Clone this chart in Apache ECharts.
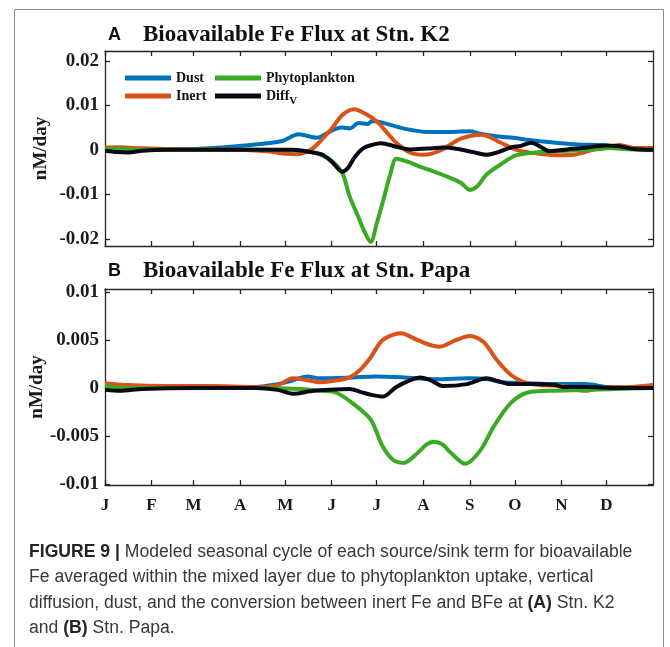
<!DOCTYPE html>
<html>
<head>
<meta charset="utf-8">
<script src="https://cdn.jsdelivr.net/npm/echarts@6/dist/echarts.min.js"></script>
<style>
  html, body { margin: 0; padding: 0; background: #fff; }
  #chart { width: 670px; height: 647px; }
</style>
</head>
<body>
<div id="chart"></div>
<script>
  // x: day of year, ticks at the start of each month
  var monthStarts = [0, 31, 59, 90, 120, 151, 181, 212, 243, 273, 304, 334];
  var monthLabels = ['J', 'F', 'M', 'A', 'M', 'J', 'J', 'A', 'S', 'O', 'N', 'D'];

  var yTicksA = [-0.02, -0.01, 0, 0.01, 0.02];
  var yTickLabelsA = ['-0.02', '-0.01', '0', '0.01', '0.02'];
  var yTicksB = [-0.01, -0.005, 0, 0.005, 0.01];
  var yTickLabelsB = ['-0.01', '-0.005', '0', '0.005', '0.01'];

  // Panel A - Stn. K2
  var dustDaysA = [0, 30, 45, 60, 80, 100, 118, 129, 141, 152, 158, 163, 169, 175, 178, 186, 200, 215, 230, 243, 249, 262, 272, 285, 300, 315, 330, 341, 352, 365];
  var dustA = [0, 0, 0.0001, 0.0002, 0.0006, 0.0012, 0.002, 0.0035, 0.0027, 0.0045, 0.005, 0.0048, 0.006, 0.0058, 0.0065, 0.006, 0.0047, 0.004, 0.004, 0.0042, 0.0037, 0.003, 0.0027, 0.0021, 0.0016, 0.0012, 0.0011, 0.0007, 0.0002, 0];

  var inertDaysA = [0, 10, 20, 40, 60, 90, 110, 120, 128, 137, 143, 152, 158, 166, 174, 181, 188, 194, 203, 212, 223, 237, 251, 263, 274, 285, 300, 312, 325, 336, 343, 352, 365];
  var inertA = [0.0005, 0.0006, 0.0004, 0.0002, 0.0001, 0, -0.0004, -0.0009, -0.001, 0, 0.0018, 0.0052, 0.0078, 0.0091, 0.008, 0.0064, 0.0038, 0.0016, -0.0006, -0.0011, -0.0002, 0.0025, 0.0034, 0.0017, 0, -0.0007, -0.0012, -0.0011, 0, 0.0007, 0.0011, 0.0004, 0.0004];

  var phytoDaysA = [0, 30, 100, 130, 137, 143, 150, 158, 163, 169, 173, 177, 181, 186, 190, 194, 200, 210, 220, 230, 237, 243, 248, 254, 263, 274, 290, 308, 330, 336, 345, 365];
  var phytoA = [0.0003, 0, 0, -0.0002, -0.0005, -0.001, -0.0022, -0.0052, -0.0105, -0.0153, -0.0185, -0.0207, -0.0165, -0.0105, -0.0055, -0.002, -0.0025, -0.0038, -0.005, -0.0063, -0.0074, -0.009, -0.0082, -0.0056, -0.0034, -0.0012, -0.0005, -0.0002, 0.0002, 0.0004, 0.0002, 0];

  var diffDaysA = [0, 8, 15, 25, 40, 100, 125, 137, 145, 152, 158, 162, 166, 170, 174, 184, 194, 203, 215, 225, 235, 245, 254, 262, 270, 277, 284, 290, 296, 308, 318, 333, 343, 352, 365];
  var diffA = [-0.0002, -0.0005, -0.0006, -0.0002, 0, 0, 0, -0.0005, -0.0011, -0.003, -0.0049, -0.004, -0.0018, -0.0002, 0.0007, 0.0015, 0.0007, 0.0001, 0.0003, 0.0005, 0.0002, -0.0005, -0.0011, -0.0005, 0.0005, 0.0009, 0.0016, 0.0007, -0.0003, 0.0001, 0.0004, 0.001, 0.0008, 0.0002, 0];

  // Panel B - Stn. Papa
  var dustDaysB = [0, 60, 100, 115, 123, 135, 143, 165, 180, 199, 221, 243, 255, 265, 281, 300, 320, 335, 365];
  var dustB = [0, 0, 0.0001, 0.0004, 0.0007, 0.0012, 0.001, 0.0011, 0.0012, 0.0011, 0.0009, 0.001, 0.0009, 0.0006, 0.0005, 0.0004, 0.0004, 0.0001, 0];

  var inertDaysB = [0, 15, 40, 70, 100, 115, 125, 135, 143, 155, 163, 170, 177, 185, 197, 208, 216, 223, 234, 243, 252, 261, 270, 279, 290, 305, 320, 330, 350, 365];
  var inertB = [0.0005, 0.0003, 0.0002, 0.0002, 0.0001, 0.0003, 0.001, 0.0008, 0.0006, 0.0008, 0.0011, 0.0019, 0.0032, 0.005, 0.0057, 0.005, 0.0045, 0.0043, 0.005, 0.0054, 0.0048, 0.0029, 0.0014, 0.0006, 0.0003, 0.0002, -0.0003, 0, 0.0001, 0.0003];

  var phytoDaysB = [0, 10, 30, 100, 130, 145, 154, 165, 177, 185, 192, 199, 208, 214, 219, 225, 230, 240, 250, 259, 270, 281, 295, 320, 340, 365];
  var phytoB = [0.0002, 0, 0, 0, -0.0001, -0.0003, -0.0005, -0.0016, -0.0033, -0.0061, -0.0075, -0.0078, -0.0068, -0.0059, -0.0056, -0.0059, -0.0067, -0.0079, -0.0065, -0.004, -0.0016, -0.0005, -0.0003, -0.0002, -0.0001, 0];

  var diffDaysB = [0, 10, 25, 60, 100, 115, 125, 139, 163, 170, 177, 185, 194, 203, 210, 217, 225, 241, 254, 262, 270, 281, 300, 305, 320, 340, 365];
  var diffB = [-0.0002, -0.0003, -0.0001, 0, 0, -0.0002, -0.0006, -0.0003, -0.0001, -0.0004, -0.0007, -0.0009, 0.0001, 0.0008, 0.0011, 0.0008, 0.0002, 0.0004, 0.001, 0.0007, 0.0004, 0.0004, 0.0003, 0.0001, 0.0001, 0, 0];

  var captionLines = [
    '{b|FIGURE 9 |} Modeled seasonal cycle of each source/sink term for bioavailable',
    'Fe averaged within the mixed layer due to phytoplankton uptake, vertical',
    'diffusion, dust, and the conversion between inert Fe and BFe at {b|(A)} Stn. K2',
    'and {b|(B)} Stn. Papa.'
  ];

  var colors = { dust: '#0072BD', inert: '#D95319', phyto: '#3AAA22', diff: '#0a0a14' };
  var serif = "'Liberation Serif', 'Times New Roman', serif";
  var sans = "'Liberation Sans', Arial, sans-serif";
  var axisColor = '#262626';

  function pairs(days, vals) {
    return days.map(function (d, i) { return [d, vals[i]]; });
  }
  function pick(ticks, labels) {
    return function (v) {
      for (var i = 0; i < ticks.length; i++) {
        if (Math.abs(ticks[i] - v) < 1e-9) return labels[i];
      }
      return '';
    };
  }

  function xAxes(gridIndex, withLabels) {
    var base = {
      type: 'value', gridIndex: gridIndex, min: 0, max: 365,
      axisLine: { show: true, onZero: false, lineStyle: { color: axisColor, width: 1.3 } },
      axisTick: { show: true, inside: true, length: 5, customValues: monthStarts, lineStyle: { color: axisColor, width: 1.3 } },
      splitLine: { show: false }
    };
    var bottom = echarts.util.merge({
      position: 'bottom',
      axisLabel: {
        show: withLabels, customValues: monthStarts, margin: 12,
        formatter: pick(monthStarts, monthLabels),
        fontFamily: serif, fontWeight: 'bold', fontSize: 17, color: '#1a1a1a'
      }
    }, base, true);
    var top = echarts.util.merge({ position: 'top', axisLabel: { show: false } }, base, true);
    return [bottom, top];
  }

  function yAxes(gridIndex, min, max, ticks, labels, nameGap) {
    var base = {
      type: 'value', gridIndex: gridIndex, min: min, max: max,
      axisLine: { show: true, onZero: false, lineStyle: { color: axisColor, width: 1.3 } },
      axisTick: { show: true, inside: true, length: 5, customValues: ticks, lineStyle: { color: axisColor, width: 1.3 } },
      splitLine: { show: false }
    };
    var left = echarts.util.merge({
      position: 'left',
      name: 'nM/day', nameLocation: 'middle', nameGap: nameGap, nameMoveOverlap: false,
      nameTextStyle: { fontFamily: serif, fontWeight: 'bold', fontSize: 19, color: '#1a1a1a' },
      axisLabel: {
        customValues: ticks, margin: 6,
        formatter: pick(ticks, labels),
        fontFamily: serif, fontWeight: 'bold', fontSize: 19, color: '#1a1a1a'
      }
    }, base, true);
    var right = echarts.util.merge({ position: 'right', axisLabel: { show: false } }, base, true);
    return [left, right];
  }

  function line(name, color, xi, yi, data, z) {
    return {
      name: name, type: 'line', xAxisIndex: xi, yAxisIndex: yi,
      data: data, smooth: 0.3, showSymbol: false, symbol: 'none',
      lineStyle: { color: color, width: 4 }, itemStyle: { color: color },
      z: z, silent: true
    };
  }

  var legendText = {
    fontFamily: serif, fontWeight: 'bold', fontSize: 14, color: '#111',
    rich: {
      sub: { fontFamily: serif, fontWeight: 'bold', fontSize: 11, color: '#111', padding: [11, 0, 0, 0] }
    }
  };
  function legendFmt(name) {
    return name === 'DiffV' ? 'Diff{sub|V}' : name;
  }

  var chart = echarts.init(document.getElementById('chart'), null, { renderer: 'canvas' });

  function panelTitle(letter, text, top) {
    return {
      left: 108, top: top, padding: 0,
      text: '{p|' + letter + '}{t|' + text + '}',
      textStyle: {
        rich: {
          p: { fontFamily: sans, fontWeight: 'bold', fontSize: 18, color: '#111', width: 35, lineHeight: 24 },
          t: { fontFamily: serif, fontWeight: 'bold', fontSize: 23, color: '#111', lineHeight: 24 }
        }
      }
    };
  }
  var titles = [
    panelTitle('A', 'Bioavailable Fe Flux at Stn. K2', 23),
    panelTitle('B', 'Bioavailable Fe Flux at Stn. Papa', 259)
  ];
  var capTops = [541, 566, 592, 617];
  captionLines.forEach(function (txt, i) {
    titles.push({
      left: 29, top: capTops[i], padding: 0, text: txt,
      textStyle: {
        fontFamily: sans, fontWeight: 'normal', fontSize: 17.6, color: '#383838', lineHeight: 22,
        rich: { b: { fontFamily: sans, fontWeight: 'bold', fontSize: 17.6, color: '#222', lineHeight: 22 } }
      }
    });
  });

  var xa = xAxes(0, false), xb = xAxes(1, true);
  var ya = yAxes(0, -0.0216, 0.0222, yTicksA, yTickLabelsA, 54);
  var yb = yAxes(1, -0.0101, 0.0103, yTicksB, yTickLabelsB, 58);

  chart.setOption({
    animation: false,
    backgroundColor: '#fff',
    title: titles,
    graphic: [
      {
        type: 'rect', z: -10, silent: true,
        shape: { x: 14.5, y: 9.5, width: 649, height: 700 },
        style: { fill: 'none', stroke: '#8c8c8c', lineWidth: 1 }
      }
    ],
    legend: [
      {
        data: ['Dust', 'Inert'], orient: 'vertical', left: 125, top: 71, padding: 0,
        itemWidth: 46, itemHeight: 5, itemGap: 4, icon: 'rect', selectedMode: false,
        textStyle: legendText, formatter: legendFmt
      },
      {
        data: ['Phytoplankton', 'DiffV'], orient: 'vertical', left: 215, top: 71, padding: 0,
        itemWidth: 46, itemHeight: 5, itemGap: 4, icon: 'rect', selectedMode: false,
        textStyle: legendText, formatter: legendFmt
      }
    ],
    grid: [
      { left: 105, top: 51, width: 548, height: 195 },
      { left: 105, top: 289, width: 548, height: 196 }
    ],
    xAxis: [xa[0], xa[1], xb[0], xb[1]],
    yAxis: [ya[0], ya[1], yb[0], yb[1]],
    series: [
      line('Dust', colors.dust, 0, 0, pairs(dustDaysA, dustA), 2),
      line('Inert', colors.inert, 0, 0, pairs(inertDaysA, inertA), 3),
      line('Phytoplankton', colors.phyto, 0, 0, pairs(phytoDaysA, phytoA), 4),
      line('DiffV', colors.diff, 0, 0, pairs(diffDaysA, diffA), 5),
      line('Dust', colors.dust, 2, 2, pairs(dustDaysB, dustB), 2),
      line('Inert', colors.inert, 2, 2, pairs(inertDaysB, inertB), 3),
      line('Phytoplankton', colors.phyto, 2, 2, pairs(phytoDaysB, phytoB), 4),
      line('DiffV', colors.diff, 2, 2, pairs(diffDaysB, diffB), 5)
    ]
  });
</script>
</body>
</html>
